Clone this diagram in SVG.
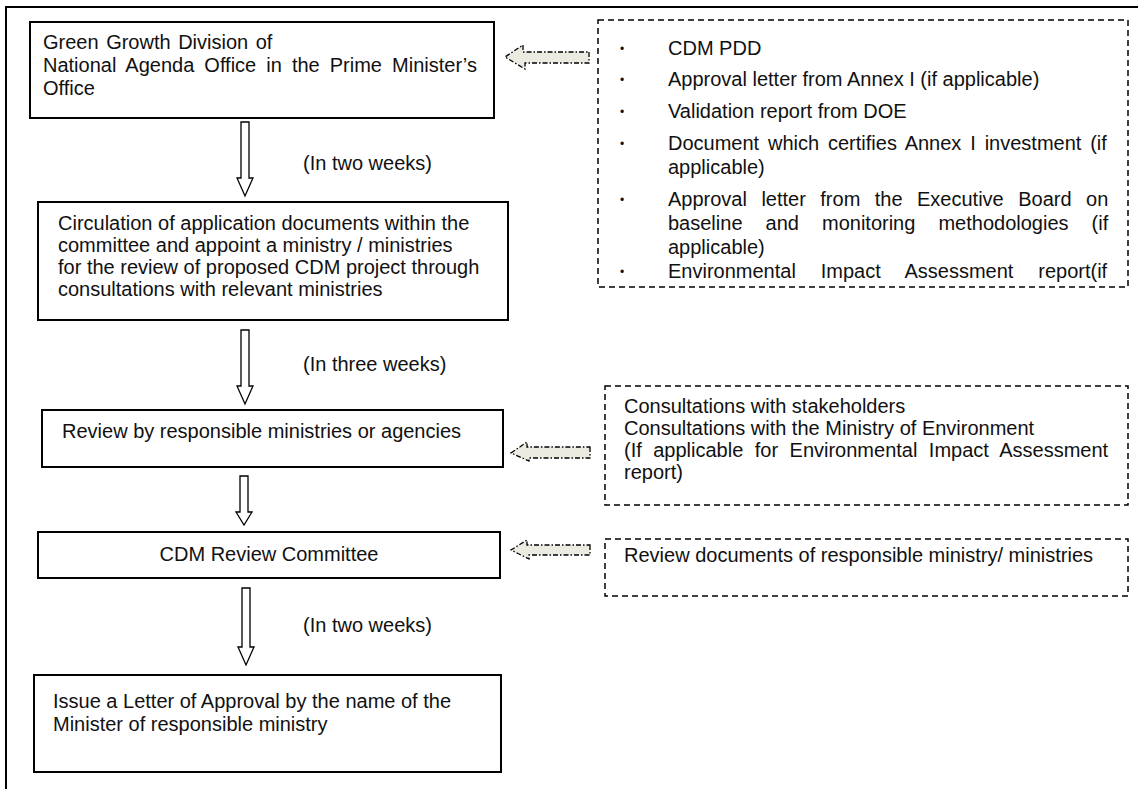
<svg xmlns="http://www.w3.org/2000/svg" width="1138" height="789" viewBox="0 0 1138 789">
<style>
text{font-family:"Liberation Sans",Arial,sans-serif;font-size:20px;fill:#111}
.b{font-size:12px}
.box{fill:#fff;stroke:#000;stroke-width:2}
.dash{fill:#fff;stroke:#000;stroke-width:1.5;stroke-dasharray:6 4}
.down{fill:#fff;stroke:#000;stroke-width:1.3}
.side{fill:#ecebe1;stroke:#000;stroke-width:1.3;stroke-dasharray:5 2 1.5 2}
</style>
<rect width="1138" height="789" fill="#fff"/>
<g id="frame"><path d="M6 789V7H1138" fill="none" stroke="#000" stroke-width="2"/></g>

<g id="n1"><rect class="box" x="30" y="22" width="464" height="96"/>
<text x="43" y="49" word-spacing="2">Green Growth Division of</text>
<text x="43" y="72" word-spacing="4.5">National Agenda Office in the Prime Minister’s</text>
<text x="43" y="95">Office</text></g>

<g id="n2"><rect class="box" x="38" y="202" width="470" height="118"/>
<text x="58" y="230">Circulation of application documents within the</text>
<text x="58" y="252">committee and appoint a ministry / ministries</text>
<text x="58" y="274">for the review of proposed CDM project through</text>
<text x="58" y="296">consultations with relevant ministries</text></g>

<g id="n3"><rect class="box" x="42" y="410" width="461" height="57"/>
<text x="62" y="438">Review by responsible ministries or agencies</text></g>

<g id="n4"><rect class="box" x="38" y="532" width="462" height="46"/>
<text x="269" y="561" text-anchor="middle">CDM Review Committee</text></g>

<g id="n5"><rect class="box" x="34" y="675" width="467" height="97"/>
<text x="53" y="708">Issue a Letter of Approval by the name of the</text>
<text x="53" y="731">Minister of responsible ministry</text></g>

<g id="d1"><rect class="dash" x="598" y="20" width="530" height="267"/>
<text class="b" x="620" y="53">•</text><text x="668" y="55">CDM PDD</text>
<text class="b" x="620" y="84">•</text><text x="668" y="86">Approval letter from Annex I (if applicable)</text>
<text class="b" x="620" y="116">•</text><text x="668" y="118">Validation report from DOE</text>
<text class="b" x="620" y="148">•</text><text x="668" y="150" word-spacing="3.3">Document which certifies Annex I investment (if</text>
<text x="668" y="174">applicable)</text>
<text class="b" x="620" y="204">•</text><text x="668" y="206" word-spacing="8.9">Approval letter from the Executive Board on</text>
<text x="668" y="230" word-spacing="17.5">baseline and monitoring methodologies (if</text>
<text x="668" y="254">applicable)</text>
<text class="b" x="620" y="276">•</text><text x="668" y="278" word-spacing="19.3">Environmental Impact Assessment report(if</text>
</g>

<g id="d2"><rect class="dash" x="605" y="386" width="523" height="119"/>
<text x="624" y="413">Consultations with stakeholders</text>
<text x="624" y="435">Consultations with the Ministry of Environment</text>
<text x="624" y="457" word-spacing="5.9">(If applicable for Environmental Impact Assessment</text>
<text x="624" y="479">report)</text></g>

<g id="d3"><rect class="dash" x="605" y="539" width="523" height="57"/>
<text x="624" y="562">Review documents of responsible ministry/ ministries</text></g>

<g id="connectors">
<path class="down" d="M241 122H249V178H253L245 196L237 178H241Z"/>
<path class="down" d="M241 330H249V386H253L245 404L237 386H241Z"/>
<path class="down" d="M240 476H248V512H252L244 525L236 512H240Z"/>
<path class="down" d="M242 588H250V647H254L246 665L238 647H242Z"/>
<path class="side" d="M589 52V63H525V69L505 57L523 45V52Z"/>
<path class="side" d="M590 447V458H529V461L511 453L527 442V447Z"/>
<path class="side" d="M590 545V555H529V559L511 550L527 540V545Z"/>
<text x="303" y="170">(In two weeks)</text>
<text x="303" y="371">(In three weeks)</text>
<text x="303" y="632">(In two weeks)</text>
</g>
</svg>
